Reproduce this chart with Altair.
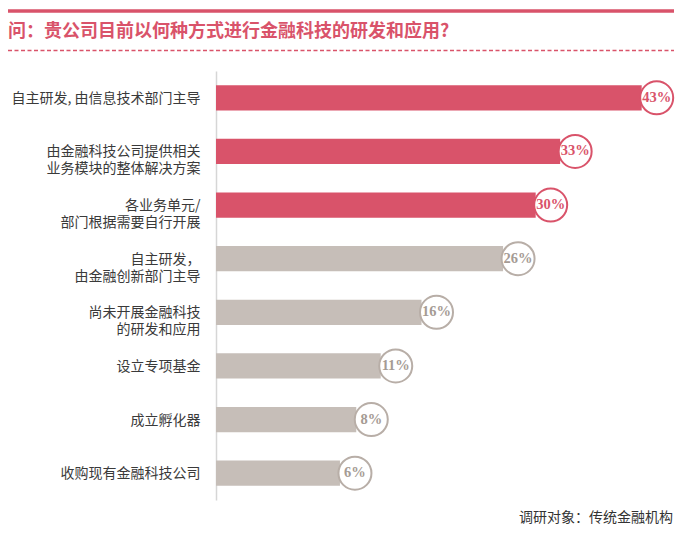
import altair as alt
import pandas as pd

# ---- data ----
categories = [
    "自主研发, 由信息技术部门主导",
    "由金融科技公司提供相关\n业务模块的整体解决方案",
    "各业务单元/\n部门根据需要自行开展",
    "自主研发，\n由金融创新部门主导",
    "尚未开展金融科技\n的研发和应用",
    "设立专项基金",
    "成立孵化器",
    "收购现有金融科技公司",
]
values = [43, 33, 30, 26, 16, 11, 8, 6]
groups = ["重点", "重点", "重点", "其他", "其他", "其他", "其他", "其他"]

title_text = "问：贵公司目前以何种方式进行金融科技的研发和应用?"
footer_text = "调研对象：传统金融机构"

PINK = "#D9536A"
GRAY_BAR = "#C6BEB8"
GRAY_RING = "#B8AEA7"
GRAY_TXT = "#A59B94"

df = pd.DataFrame({"cat": categories, "value": values, "grp": groups})

W, H = 442, 429
X_MIN, X_MAX = -9.2, 45
RING = 1090
OFF = 15

y_enc = alt.Y(
    "cat:N",
    sort=categories,
    scale=alt.Scale(paddingInner=0.53, paddingOuter=0.265),
    axis=alt.Axis(
        title=None,
        ticks=False,
        grid=False,
        domainColor="#D6D6D6",
        domainWidth=1.5,
        labelFont="Noto Sans CJK SC",
        labelFontSize=14,
        labelColor="#3a3a3a",
        labelPadding=16,
        labelLineHeight=17,
        labelOffset=1,
        labelLimit=300,
        labelExpr="split(datum.label, '\\n')",
    ),
)
x_scale = alt.Scale(domain=[X_MIN, X_MAX], nice=False, zero=False)

base = alt.Chart(df)
y_plain = alt.Y("cat:N", sort=categories)
x_val = alt.X("value:Q", scale=x_scale, axis=None)

bars = base.mark_bar().encode(
    y=y_enc,
    x=x_val,
    x2=alt.datum(X_MIN),
    color=alt.Color("grp:N", scale=alt.Scale(domain=["重点", "其他"], range=[PINK, GRAY_BAR]), legend=None),
)

discs = base.mark_circle(color="white", opacity=1, size=RING, xOffset=OFF).encode(
    y=y_plain, x=x_val
)

rings = base.mark_point(shape="circle", filled=False, opacity=1, strokeWidth=2, size=RING, xOffset=OFF).encode(
    y=y_plain,
    x=x_val,
    stroke=alt.Stroke("grp:N", scale=alt.Scale(domain=["重点", "其他"], range=[PINK, GRAY_RING]), legend=None),
)

labels = base.transform_calculate(lbl="format(datum.value, 'd') + '%'").mark_text(
    font="Liberation Serif", fontWeight="bold", fontSize=14.5, xOffset=OFF, baseline="middle", align="center"
).encode(
    y=y_plain,
    x=x_val,
    text="lbl:N",
    fill=alt.Fill("grp:N", scale=alt.Scale(domain=["重点", "其他"], range=[PINK, GRAY_TXT]), legend=None),
)

one = pd.DataFrame({"t": [title_text], "f": [footer_text]})

top_line = alt.Chart(one).mark_rule(color=PINK, strokeWidth=3.5).encode(
    x=alt.value(-208), x2=alt.value(458), y=alt.value(-60)
)
dash_line = alt.Chart(one).mark_rule(color=PINK, strokeWidth=1.5, strokeDash=[4, 2.5]).encode(
    x=alt.value(-208), x2=alt.value(458), y=alt.value(-20.5)
)
title = alt.Chart(one).mark_text(
    font="Noto Sans CJK SC", fontWeight="bold", fontSize=18, color=PINK, align="left", baseline="middle"
).encode(text="t:N", x=alt.value(-208), y=alt.value(-39))
footer = alt.Chart(one).mark_text(
    font="Noto Sans CJK SC", fontSize=14, color="#333333", align="right", baseline="middle"
).encode(text="f:N", x=alt.value(457), y=alt.value(447))

chart = (
    alt.layer(bars, discs, rings, labels, top_line, dash_line, title, footer)
    .resolve_scale(color="independent", fill="independent", stroke="independent")
    .properties(
        width=W,
        height=H,
        autosize=alt.AutoSizeParams(type="none"),
        padding={"left": 208, "top": 63, "right": 29, "bottom": 26},
        background="white",
    )
    .configure_view(stroke=None)
)

chart.save("out.html", embed_options={"renderer": "svg", "actions": False})
